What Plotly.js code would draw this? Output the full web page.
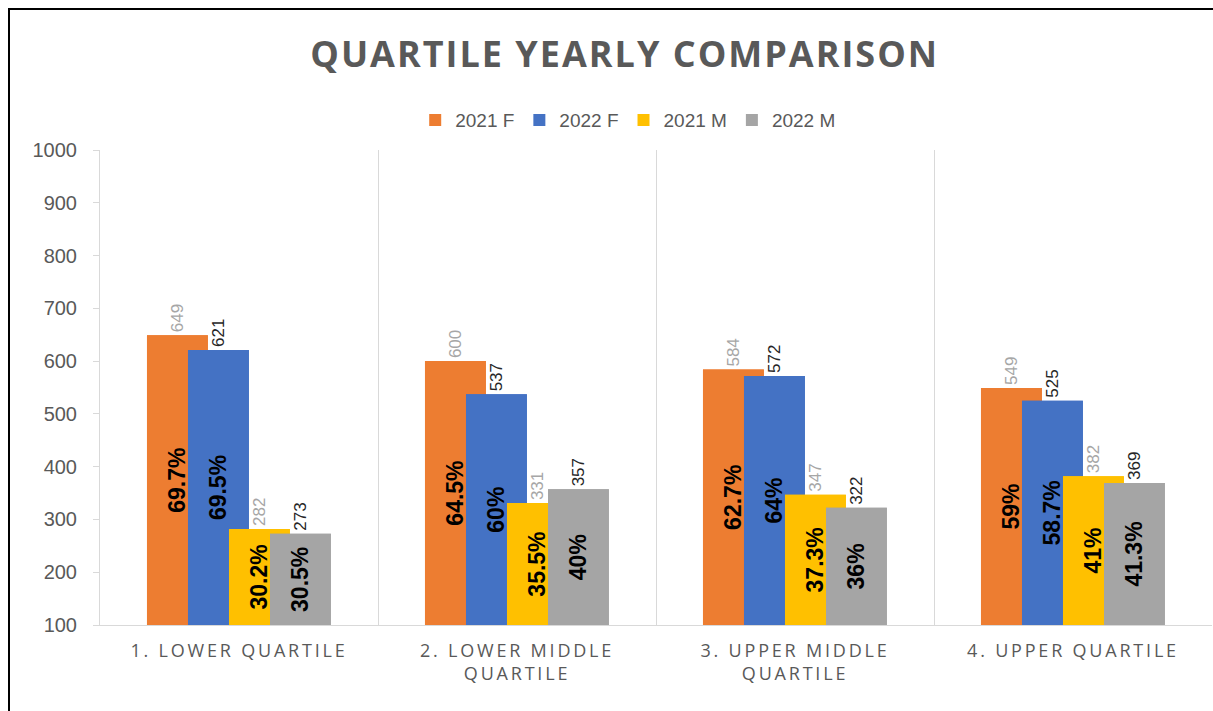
<!DOCTYPE html>
<html>
<head>
<meta charset="utf-8">
<script src="https://cdn.plot.ly/plotly-3.0.1.min.js"></script>
<style>
  html, body { margin: 0; padding: 0; background: #fff; }
  #wrap { position: relative; width: 1213px; height: 711px; }
  #chart { width: 1213px; height: 711px; }
  #frame { position: absolute; left: 8px; top: 8px; right: -2px; bottom: -2px;
           border-left: 2px solid #000; border-top: 2px solid #000; pointer-events: none; }
  .xtick text { letter-spacing: 2.8px; }
  .gtitle { letter-spacing: 2px; }
</style>
</head>
<body>
<div id="wrap">
  <div id="chart"></div>
  <div id="frame"></div>
</div>
<script>
const categories = ["1. LOWER QUARTILE", "2. LOWER MIDDLE<br>QUARTILE", "3. UPPER MIDDLE<br>QUARTILE", "4. UPPER QUARTILE"];
const seriesNames = ["2021 F", "2022 F", "2021 M", "2022 M"];
const f2021 = [649, 600, 584, 549];
const f2022 = [621, 537, 572, 525];
const m2021 = [282, 331, 347, 382];
const m2022 = [273, 357, 322, 369];
const pctF2021 = ["69.7%", "64.5%", "62.7%", "59%"];
const pctF2022 = ["69.5%", "60%", "64%", "58.7%"];
const pctM2021 = ["30.2%", "35.5%", "37.3%", "41%"];
const pctM2022 = ["30.5%", "40%", "36%", "41.3%"];
const yTickVals = [100, 200, 300, 400, 500, 600, 700, 800, 900, 1000];

const axisMin = 100;   // value axis starts (and bars are based) at 100
const values = [f2021, f2022, m2021, m2022];
const pcts = [pctF2021, pctF2022, pctM2021, pctM2022];
const colors = ["#ED7D31", "#4472C4", "#FFC000", "#A5A5A5"];
const valueColors = ["#a6a6a6", "#262626", "#a6a6a6", "#262626"];

const barW = 0.219;
const step = 0.1475;
const start = -0.331;

const traces = [];
values.forEach((vals, i) => {
  const off = start + i * step;
  const len = vals.map(v => v - axisMin);
  traces.push({
    type: "bar", x: categories, y: len, base: axisMin, name: seriesNames[i],
    offset: off, width: barW,
    marker: { color: colors[i], line: { width: 0 } },
    text: vals.map(v => String(v)), textposition: "outside", textangle: -90,
    textfont: { family: "Liberation Sans, Arial, sans-serif", size: 17, color: valueColors[i] },
    cliponaxis: false, hoverinfo: "skip"
  });
  traces.push({
    type: "bar", x: categories, y: len, base: axisMin, name: seriesNames[i], showlegend: false,
    offset: off, width: barW,
    marker: { color: colors[i], line: { width: 0 } },
    text: pcts[i], textposition: "inside", insidetextanchor: "middle", textangle: -90,
    insidetextfont: { family: "Liberation Sans, Arial, sans-serif", size: 23, color: "#000000", weight: "bold" },
    textfont: { family: "Liberation Sans, Arial, sans-serif", size: 23, color: "#000000", weight: "bold" },
    constraintext: "none",
    hoverinfo: "skip"
  });
});

const layout = {
  width: 1213, height: 711,
  margin: { l: 100, r: 1, t: 150, b: 86 },
  paper_bgcolor: "#ffffff", plot_bgcolor: "#ffffff",
  barmode: "overlay",
  title: {
    text: "<b>QUARTILE YEARLY COMPARISON</b>",
    x: 0.515, xanchor: "center", xref: "container",
    y: 0.923, yanchor: "middle", yref: "container",
    font: { family: "Open Sans, sans-serif", size: 36, color: "#595959" }
  },
  legend: {
    orientation: "h", x: 0.475, xanchor: "center", y: 1.063, yanchor: "middle",
    font: { family: "Liberation Sans, Arial, sans-serif", size: 19, color: "#595959" },
    traceorder: "normal", itemclick: false, itemdoubleclick: false
  },
  xaxis: {
    type: "category",
    tickson: "boundaries", showgrid: true, gridcolor: "#d9d9d9", gridwidth: 1,
    ticks: "", showline: true, linecolor: "#d9d9d9", linewidth: 1,
    ticklabelstandoff: 9,
    tickfont: { family: "Open Sans, sans-serif", size: 18, color: "#595959" },
    fixedrange: true
  },
  yaxis: {
    range: [100, 1000], tickvals: yTickVals,
    showgrid: false, zeroline: false,
    showline: true, linecolor: "#d9d9d9", linewidth: 1,
    ticks: "outside", ticklen: 6, tickcolor: "#d9d9d9",
    ticklabelstandoff: 12,
    tickfont: { family: "Liberation Sans, Arial, sans-serif", size: 20, color: "#595959" },
    fixedrange: true
  },
  showlegend: true,
  hovermode: false
};

Plotly.newPlot("chart", traces, layout, { displayModeBar: false, staticPlot: true });
</script>
</body>
</html>
